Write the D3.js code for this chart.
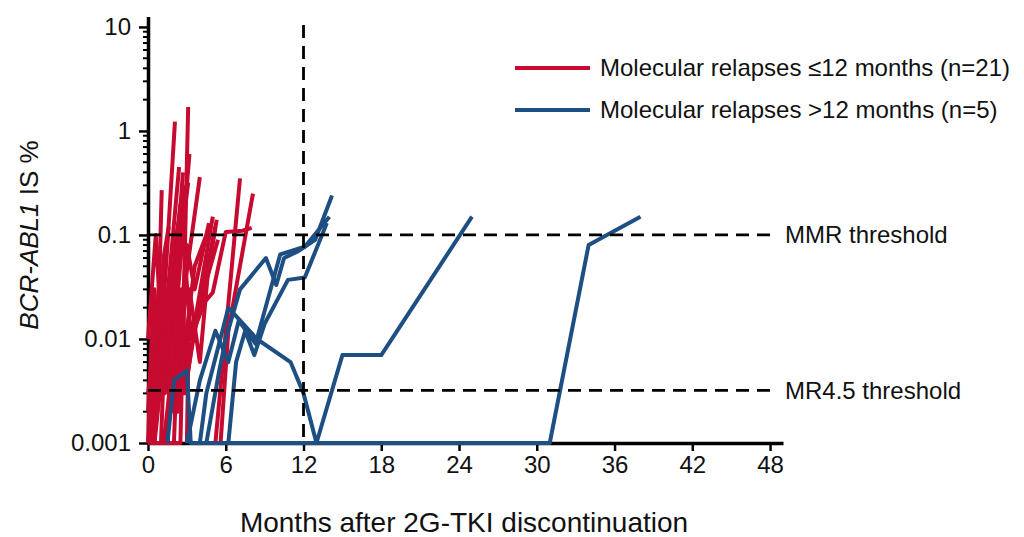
<!DOCTYPE html>
<html>
<head>
<meta charset="utf-8">
<script src="https://cdn.jsdelivr.net/npm/d3@7"></script>
<style>
  body { margin: 0; background: #fff; }
  svg { display: block; font-family: "Liberation Sans", Arial, sans-serif; }
</style>
</head>
<body>
<div id="chart"></div>
<script>
// months after discontinuation, BCR-ABL1 IS % (0.001 = undetectable floor)
const earlyRelapses = [
    [[0, 0.001], [0.3, 0.01], [0.6, 0.002], [1.06, 0.27]],
    [[0, 0.002], [0.5, 0.03], [0.8, 0.004], [1.5, 0.08], [2.08, 1.23]],
    [[0, 0.001], [2.5, 0.001], [3.1, 1.7]],
    [[0.3, 0.001], [0.9, 0.05], [1.3, 0.003], [2.2, 0.04], [3.1, 0.32]],
    [[0.5, 0.001], [1.6, 0.02], [2.2, 0.002], [2.8, 0.03], [4.0, 0.36]],
    [[1.2, 0.001], [2.6, 0.03], [3, 0.004], [3.8, 0.02], [5.0, 0.15]],
    [[0, 0.01], [0.6, 0.1], [1.2, 0.005], [2.0, 0.05], [2.5, 0.2]],
    [[0.5, 0.001], [1.2, 0.04], [1.6, 0.003], [2.1, 0.05], [2.8, 0.25]],
    [[0.3, 0.001], [1.0, 0.03], [2.2, 0.004], [3.5, 0.015], [4, 0.02], [5, 0.028], [6, 0.107], [7.3, 0.11], [8, 0.117]],
    [[5.2, 0.001], [7.1, 0.35]],
    [[5.6, 0.001], [6.2, 0.012], [8.1, 0.25]],
    [[1, 0.001], [1.4, 0.02], [2.0, 0.002], [3.0, 0.08], [3.6, 0.03], [4.7, 0.13]],
    [[0, 0.001], [0.8, 0.005], [1.2, 0.06], [1.6, 0.12]],
    [[2, 0.001], [2.4, 0.02], [2.8, 0.003], [3.5, 0.01], [5.2, 0.12]],
    [[0, 0.003], [1, 0.02], [1.4, 0.008], [2.2, 0.1], [2.8, 0.3]],
    [[1.5, 0.001], [1.9, 0.04], [2.3, 0.002], [3.2, 0.02], [3.6, 0.05], [4.5, 0.1]],
    [[0.2, 0.001], [0.7, 0.02], [1.2, 0.01], [2.4, 0.45]],
    [[3, 0.001], [3.2, 0.03], [4, 0.006], [4.6, 0.04], [5.4, 0.09]],
    [[0, 0.001], [1.5, 0.001], [2.2, 0.06], [2.7, 0.4]],
    [[2.5, 0.002], [2.9, 0.05], [3.3, 0.01], [4.2, 0.02], [5.3, 0.14]],
    [[0.5, 0.002], [1.5, 0.03], [1.8, 0.005], [3.2, 0.6]]
];

const lateRelapses = [
    [[1.5, 0.001], [2, 0.004], [3, 0.005], [3.3, 0.001], [31, 0.001], [34, 0.08], [38, 0.15]],
    [[4, 0.001], [4.5, 0.003], [6.2, 0.02], [8.4, 0.01], [11, 0.006], [12, 0.003], [13, 0.001], [15, 0.007], [18, 0.007], [25, 0.15]],
    [[4.5, 0.001], [5.5, 0.005], [6, 0.01], [7.1, 0.03], [9.1, 0.06], [9.9, 0.033], [10.5, 0.06], [11.6, 0.07], [12.9, 0.09], [14.2, 0.24]],
    [[3, 0.001], [4, 0.004], [5.2, 0.012], [6.2, 0.006], [7, 0.015], [8.3, 0.009], [10.2, 0.065], [12.1, 0.077], [14, 0.15]],
    [[6.2, 0.001], [6.8, 0.006], [7.5, 0.012], [8.2, 0.007], [9, 0.014], [10.8, 0.037], [12.1, 0.039], [13.8, 0.13]]
];

const xTicks = [0, 6, 12, 18, 24, 30, 36, 42, 48];
const yTicks = [0.001, 0.01, 0.1, 1, 10];
const yTickLabels = ["0.001", "0.01", "0.1", "1", "10"];
const thresholds = [0.1, 0.0032];
const thresholdLabels = ["MMR threshold", "MR4.5 threshold"];
const legendLabels = ["Molecular relapses \u226412 months (n=21)", "Molecular relapses >12 months (n=5)"];

const red = "#c60a30";
const blue = "#1d4f82";

const width = 1024;
const height = 537;

const svg = d3.select("#chart").append("svg")
    .attr("width", width)
    .attr("height", height);

const x = d3.scaleLinear().domain([0, 49]).range([148, 783]);
const y = d3.scaleLog().domain([0.001, 12.6]).range([443, 16.5]);

const line = d3.line()
    .x(d => x(d[0]))
    .y(d => y(d[1]));

// axes first, the patient lines sit on top of them
const xAxis = svg.append("g")
    .attr("transform", `translate(0,${y(0.001)})`)
    .call(d3.axisBottom(x).tickValues(xTicks).tickSize(8).tickSizeOuter(0).tickPadding(5));

const yAxis = svg.append("g")
    .attr("transform", `translate(${x(0)},0)`)
    .call(d3.axisLeft(y).tickValues(yTicks).tickFormat((d, i) => yTickLabels[i]).tickSize(9).tickSizeOuter(0).tickPadding(8));

const minor = [];
yTicks.slice(0, -1).forEach(t => {
    for (let k = 2; k <= 9; k++) minor.push(t * k);
});
yAxis.selectAll(".minor")
    .data(minor)
    .enter()
    .append("line")
    .classed("minor", true)
    .attr("x1", 0)
    .attr("x2", -5)
    .attr("y1", d => y(d))
    .attr("y2", d => y(d))
    .attr("stroke", "#000")
    .attr("stroke-width", 2);

[xAxis, yAxis].forEach(g => {
    g.select(".domain").attr("stroke-width", 3.5);
    g.selectAll(".tick line").attr("stroke-width", 2.5);
    g.selectAll(".tick text")
        .attr("font-size", 24)
        .attr("font-family", "Liberation Sans, Arial, sans-serif")
        .attr("fill", "#111");
});

svg.append("g")
    .selectAll("path")
    .data(earlyRelapses)
    .enter()
    .append("path")
    .attr("d", line)
    .attr("fill", "none")
    .attr("stroke", red)
    .attr("stroke-width", 4)
    .attr("stroke-linejoin", "round");

svg.append("g")
    .selectAll("path")
    .data(lateRelapses)
    .enter()
    .append("path")
    .attr("d", line)
    .attr("fill", "none")
    .attr("stroke", blue)
    .attr("stroke-width", 4)
    .attr("stroke-linejoin", "round");

// threshold lines
const dash = "13,8";
svg.append("g")
    .selectAll("line")
    .data(thresholds)
    .enter()
    .append("line")
    .attr("x1", x(0))
    .attr("x2", x(48))
    .attr("y1", d => y(d))
    .attr("y2", d => y(d))
    .attr("stroke", "#000")
    .attr("stroke-width", 2.8)
    .attr("stroke-dasharray", dash);

svg.append("line")
    .attr("x1", x(12))
    .attr("x2", x(12))
    .attr("y1", y(10) - 2)
    .attr("y2", y(0.001))
    .attr("stroke", "#000")
    .attr("stroke-width", 2.8)
    .attr("stroke-dasharray", dash);

svg.append("g")
    .selectAll("text")
    .data(thresholds)
    .enter()
    .append("text")
    .attr("x", 785)
    .attr("y", d => y(d))
    .attr("dy", "0.35em")
    .attr("font-size", 24)
    .attr("fill", "#111")
    .text((d, i) => thresholdLabels[i]);

// axis titles
svg.append("text")
    .attr("x", 464)
    .attr("y", 532)
    .attr("text-anchor", "middle")
    .attr("font-size", 28)
    .attr("fill", "#111")
    .text("Months after 2G-TKI discontinuation");

const yTitle = svg.append("text")
    .attr("transform", "translate(38,235) rotate(-90)")
    .attr("text-anchor", "middle")
    .attr("font-size", 26)
    .attr("fill", "#111");
yTitle.append("tspan").attr("font-style", "italic").text("BCR-ABL1");
yTitle.append("tspan").text(" IS %");

// legend
const legend = svg.append("g")
    .selectAll("g")
    .data(legendLabels)
    .enter()
    .append("g")
    .attr("transform", (d, i) => `translate(515,${68 + i * 42})`);

legend.append("line")
    .attr("x1", 0)
    .attr("x2", 75)
    .attr("stroke", (d, i) => i === 0 ? red : blue)
    .attr("stroke-width", 4);

legend.append("text")
    .attr("x", 85)
    .attr("dy", "0.35em")
    .attr("font-size", 24)
    .attr("fill", "#111")
    .text(d => d);
</script>
</body>
</html>
